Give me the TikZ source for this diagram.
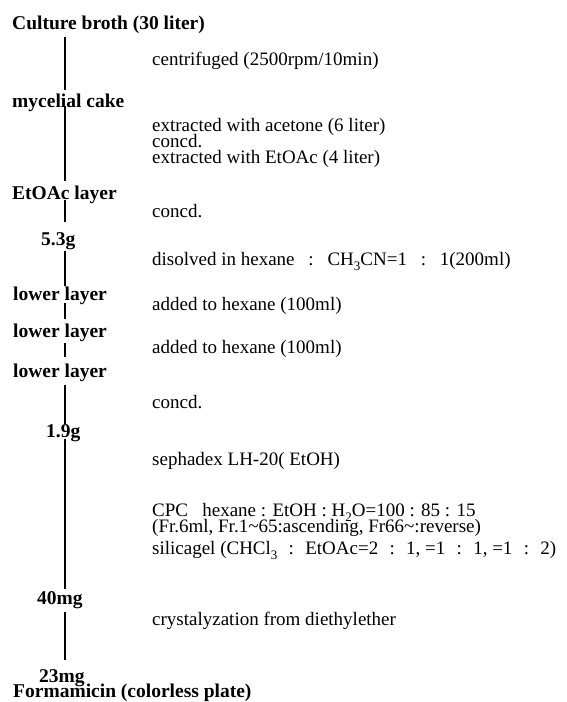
\documentclass[tikz,border=0pt]{standalone}
\usepackage{fontspec}
\setmainfont{Liberation Serif}
\newcommand\lsub[1]{\raisebox{-0.28em}{\fontsize{13}{13}\selectfont #1}}
\newcommand\wsp{\hspace{13.8pt}}
\newcommand\vsp{\hspace{11.3pt}}
\begin{document}
\begin{tikzpicture}[x=1pt,y=-1pt,
  every node/.style={inner sep=0pt, anchor=base west, font=\fontsize{19}{16}\selectfont},
  prod/.style={font=\fontsize{19.5}{16}\selectfont\bfseries},
  link/.style={line width=1.3pt}]
\useasboundingbox (0,0) rectangle (567,702);
\coordinate (col) at (65,0);
% products (left column)
\node[prod] (culture) at (12,29) {Culture broth (30 liter)};
\node[prod] (myc) at (12,107) {mycelial cake};
\node[prod] (etoac) at (12,199) {EtOAc layer};
\node[prod] (w53) at (41,245) {5.3g};
\node[prod] (low1) at (13,300) {lower layer};
\node[prod] (low2) at (13,337) {lower layer};
\node[prod] (low3) at (13,377) {lower layer};
\node[prod] (w19) at (46,437) {1.9g};
\node[prod] (w40) at (37,604) {40mg};
\node[prod] (w23) at (39,682) {23mg};
\node[prod] (form) at (13,697) {Formamicin (colorless plate)};
% steps (right column)
\node (s1) at (152,65) {centrifuged (2500rpm/10min)};
\node (s2a) at (152,131) {extracted with acetone (6 liter)};
\node (s2b) at (152,147) {concd.};
\node (s2c) at (152,163) {extracted with EtOAc (4 liter)};
\node (s3) at (152,217) {concd.};
\node (s4) at (152,265) {disolved in hexane\wsp:\wsp CH\lsub{3}CN=1\wsp:\wsp 1(200ml)};
\node (s5) at (152,310) {added to hexane (100ml)};
\node (s6) at (152,353) {added to hexane (100ml)};
\node (s7) at (152,408) {concd.};
\node (s8) at (152,465) {sephadex LH-20( EtOH)};
\node (s9a) at (152,516) {CPC\ \ \ hexane : EtOH : H\lsub{2}O=100 : 85 : 15};
\node (s9b) at (152,532) {(Fr.6ml, Fr.1\textasciitilde65:ascending, Fr66\textasciitilde:reverse)};
\node (s10) at (152,554) {silicagel (CHCl\lsub{3}\vsp:\vsp EtOAc=2\vsp:\vsp 1, =1\vsp:\vsp 1, =1\vsp:\vsp 2)};
\node (s11) at (152,625) {crystalyzation from diethylether};
% connectors
\draw[link, shorten <=4pt, shorten >=3pt] (culture.south -| col) -- (myc.north -| col);
\draw[link, shorten <=-5pt, shorten >=4pt] (myc.south -| col) -- (etoac.north -| col);
\draw[link, shorten <=-3pt, shorten >=10pt] (etoac.south -| col) -- (w53.north -| col);
\draw[link, shorten <=1pt, shorten >=0pt] (w53.south -| col) -- (low1.north -| col);
\draw[link, shorten <=-1pt, shorten >=4pt] (low1.south -| col) -- (low2.north -| col);
\draw[link, shorten <=2pt, shorten >=6pt] (low2.south -| col) -- (low3.north -| col);
\draw[link, shorten <=4pt, shorten >=0pt] (low3.south -| col) -- (w19.north -| col);
\draw[link, shorten <=-3pt, shorten >=2pt] (w19.south -| col) -- (w40.north -| col);
\draw[link, shorten <=3pt, shorten >=9pt] (w40.south -| col) -- (w23.north -| col);
\end{tikzpicture}
\end{document}
